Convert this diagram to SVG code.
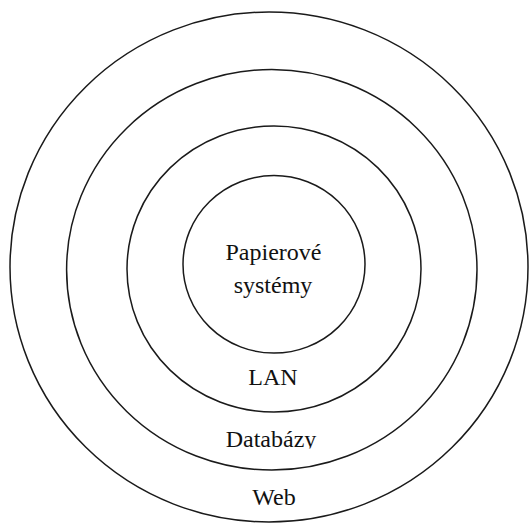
<svg xmlns="http://www.w3.org/2000/svg" width="529" height="523" viewBox="0 0 529 523">
<style>
.ring{fill:none;stroke:#1a1a1a;stroke-width:1.5}
.lbl{font-family:"Liberation Serif","Times New Roman",serif;font-size:24px;fill:#111;text-anchor:middle}
</style>
<defs>
<clipPath id="clipDb"><rect x="200" y="420" width="140" height="28.5"/></clipPath>
</defs>
<rect x="0" y="0" width="529" height="523" fill="#fff"/>
<g id="web">
<ellipse class="ring" cx="269" cy="267" rx="259" ry="255"/>
<text class="lbl" x="274" y="505">Web</text>
</g>
<g id="databazy">
<ellipse class="ring" cx="271.8" cy="269.8" rx="205.2" ry="200.3"/>
<text class="lbl" x="271" y="447" clip-path="url(#clipDb)">Databázy</text>
</g>
<g id="lan">
<ellipse class="ring" cx="274" cy="269" rx="147" ry="143"/>
<text class="lbl" x="273" y="385">LAN</text>
</g>
<g id="papierove">
<ellipse class="ring" cx="274" cy="264.3" rx="91" ry="88.8"/>
<text class="lbl" x="273.5" y="260">Papierové</text>
<text class="lbl" x="273" y="293">systémy</text>
</g>
</svg>
